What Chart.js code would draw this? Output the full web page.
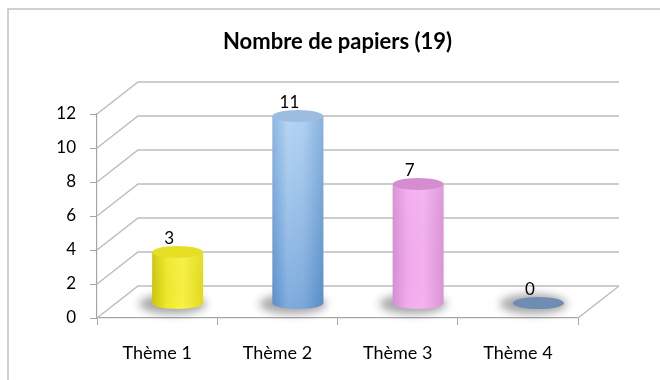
<!DOCTYPE html>
<html>
<head>
<meta charset="utf-8">
<title>Nombre de papiers</title>
<script src="https://cdn.jsdelivr.net/npm/chart.js@4.4.0/dist/chart.umd.min.js"></script>
<style>
  html, body { margin: 0; padding: 0; background: #fff; }
  #chart { display: block; }
</style>
</head>
<body>
<canvas id="chart" width="660" height="380"></canvas>
<script>
// Paper counts per theme
const categories = ['Thème 1', 'Thème 2', 'Thème 3', 'Thème 4'];
const papers = [3, 11, 7, 0];
const yTicks = [0, 2, 4, 6, 8, 10, 12];
const chartTitle = 'Nombre de papiers (19)';

const FONT = 'Lato, "Open Sans", sans-serif';
const DEPTH_X = 41;     // how far the back wall sits right of the front plane
const DEPTH_Y = -32;    // ...and how far up
const GRID = '#bdbdbd';
const AXIS = '#a6a6a6';

// body gradient (left -> right), top cap colour, vertical tint
const palettes = [
    { body: ['#cfc60c', '#f2ea2c', '#f8f244', '#e4dc1c'], cap: '#e6df26', tint: ['rgba(255,255,255,0.05)', 'rgba(0,0,0,0)'] },
    { body: ['#6ea4da', '#a3caf0', '#9cc5ee', '#6c9fd4'], cap: '#9dbde0', tint: ['rgba(255,255,255,0.2)', 'rgba(20,80,160,0.25)'] },
    { body: ['#d78fd3', '#f3acef', '#f4b2f0', '#dc95d8'], cap: '#d68dd0', tint: ['rgba(255,255,255,0.05)', 'rgba(0,0,0,0)'] },
    { body: ['#6f8db2', '#6f8db2', '#6f8db2', '#6f8db2'], cap: '#6f8db2', tint: ['rgba(0,0,0,0)', 'rgba(0,0,0,0)'] }
];

function drawCylinder(ctx, cx, top, base, rx, ry, pal) {
    // soft floor shadow
    ctx.save();
    ctx.filter = 'blur(4px)';
    ctx.fillStyle = 'rgba(60,60,60,0.45)';
    ctx.beginPath();
    ctx.ellipse(cx - 5, base + 1, rx + 8, ry + 4, 0, 0, Math.PI * 2);
    ctx.fill();
    ctx.restore();

    // body
    const g = ctx.createLinearGradient(cx - rx, 0, cx + rx, 0);
    g.addColorStop(0, pal.body[0]);
    g.addColorStop(0.3, pal.body[1]);
    g.addColorStop(0.6, pal.body[2]);
    g.addColorStop(1, pal.body[3]);
    ctx.beginPath();
    ctx.moveTo(cx - rx, top);
    ctx.lineTo(cx - rx, base);
    ctx.ellipse(cx, base, rx, ry, 0, Math.PI, 0, true);
    ctx.lineTo(cx + rx, top);
    ctx.closePath();
    ctx.fillStyle = g;
    ctx.fill();

    if (base - top > 1) {
        const v = ctx.createLinearGradient(0, top, 0, base + ry);
        v.addColorStop(0, pal.tint[0]);
        v.addColorStop(1, pal.tint[1]);
        ctx.fillStyle = v;
        ctx.fill();
    }

    // top cap
    ctx.beginPath();
    ctx.ellipse(cx, top, rx, ry, 0, 0, Math.PI * 2);
    ctx.fillStyle = pal.cap;
    ctx.fill();
}

const wall3d = {
    id: 'wall3d',
    beforeDraw(chart) {
        const ctx = chart.ctx;
        ctx.save();
        ctx.strokeStyle = '#c2c2c2';
        ctx.lineWidth = 1.5;
        ctx.beginPath();
        ctx.moveTo(8, 380);
        ctx.lineTo(8, 9);
        ctx.lineTo(660, 9);
        ctx.stroke();
        ctx.restore();
    },
    beforeDatasetsDraw(chart) {
        const { ctx, chartArea: a, scales: { y } } = chart;
        ctx.save();
        ctx.strokeStyle = GRID;
        ctx.lineWidth = 1.5;
        y.ticks.forEach(t => {
            const py = y.getPixelForValue(t.value);
            ctx.beginPath();
            ctx.moveTo(a.left, py);
            ctx.lineTo(a.left + DEPTH_X, py + DEPTH_Y);
            ctx.lineTo(a.right + DEPTH_X, py + DEPTH_Y);
            ctx.stroke();
        });
        // right edge of the floor
        ctx.beginPath();
        ctx.moveTo(a.right, a.bottom);
        ctx.lineTo(a.right + DEPTH_X, a.bottom + DEPTH_Y);
        ctx.stroke();
        ctx.restore();
    },
    afterDatasetsDraw(chart) {
        const { ctx, chartArea: a, scales: { x, y } } = chart;
        const meta = chart.getDatasetMeta(0);
        const offX = DEPTH_X * 0.5, offY = DEPTH_Y * 0.47;
        ctx.save();
        meta.data.forEach((bar, i) => {
            const cx = x.getPixelForValue(i) + offX;
            const base = y.getPixelForValue(0) + offY;
            const top = y.getPixelForValue(papers[i]) + offY;
            drawCylinder(ctx, cx, top, base, 25.5, 6, palettes[i]);
        });
        ctx.fillStyle = '#000';
        ctx.font = '17px ' + FONT;
        ctx.textAlign = 'center';
        ctx.textBaseline = 'middle';
        meta.data.forEach((bar, i) => {
            const cx = x.getPixelForValue(i) + offX;
            const top = y.getPixelForValue(papers[i]) + offY;
            ctx.fillText(String(papers[i]), cx - 8.5, top - 13);
        });

        // title, centred over the front plane
        ctx.font = 'bold 22px ' + FONT;
        ctx.fillText(chartTitle, (a.left + a.right) / 2, 42);
        ctx.restore();
    }
};

new Chart(document.getElementById('chart').getContext('2d'), {
    type: 'bar',
    data: {
        labels: categories,
        datasets: [{ data: papers, backgroundColor: 'rgba(0,0,0,0)', borderWidth: 0 }]
    },
    options: {
        responsive: false,
        animation: false,
        layout: { padding: { top: 114, right: 82, bottom: 0, left: 0 } },
        plugins: {
            legend: { display: false },
            tooltip: { enabled: false },
            title: { display: false }
        },
        scales: {
            x: {
                grid: { drawOnChartArea: false, drawTicks: true, tickLength: 7, color: AXIS, offset: true },
                border: { color: AXIS, width: 1.2 },
                ticks: { padding: 17, color: '#000', font: { family: FONT, size: 18 }, maxRotation: 0 },
                afterFit: s => { s.height = 62; }
            },
            y: {
                min: 0,
                max: 12,
                afterBuildTicks: s => { s.ticks = yTicks.map(v => ({ value: v })); },
                grid: { drawOnChartArea: false, drawTicks: true, tickLength: 7, color: AXIS },
                border: { color: AXIS, width: 1.2 },
                ticks: { padding: 14, color: '#000', font: { family: FONT, size: 17 } },
                afterFit: s => { s.width = 97; }
            }
        }
    },
    plugins: [wall3d]
});
</script>
</body>
</html>
